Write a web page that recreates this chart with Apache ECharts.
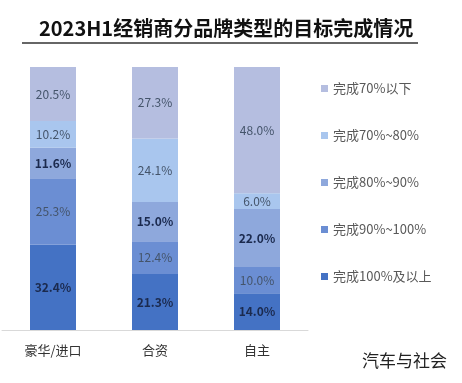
<!DOCTYPE html>
<html><head><meta charset="utf-8">
<script src="https://cdn.jsdelivr.net/npm/echarts@6/dist/echarts.min.js"></script>
<style>html,body{margin:0;padding:0;background:#fff}#c{width:462px;height:383px}</style>
</head><body><div id="c"></div>
<script>
const categories = ['豪华/进口', '合资', '自主'];
const seriesNames = ['完成100%及以上', '完成90%~100%', '完成80%~90%', '完成70%~80%', '完成70%以下'];
const s100 = [32.4, 21.3, 14.0];
const s90 = [25.3, 12.4, 10.0];
const s80 = [11.6, 15.0, 22.0];
const s70 = [10.2, 24.1, 6.0];
const sLow = [20.5, 27.3, 48.0];
const values = [s100, s90, s80, s70, sLow];
const colors = ['#4472C4', '#6B8ED3', '#8EA8DC', '#A9C6EE', '#B5BEE0'];
const bold = [true, false, true, false, false];
const F = '"Noto Sans CJK SC", "Noto Sans", sans-serif';
const chart = echarts.init(document.getElementById('c'));
chart.setOption({
  animation: false,
  textStyle: {fontFamily: F},
  title: {text: '2023H1经销商分品牌类型的目标完成情况', left: 34, top: 13,
    textStyle: {fontSize: 20, fontWeight: 'bold', color: '#111', fontFamily: F}},
  graphic: [
    {type: 'line', shape: {x1: 22, y1: 43, x2: 418, y2: 43}, style: {stroke: '#666', lineWidth: 2}},
    {type: 'text', left: 362, top: 352, style: {text: '汽车与社会', font: '17px ' + F, fill: '#222'}}
  ],
  legend: {orient: 'vertical', left: 316, top: 77, itemWidth: 7, itemHeight: 7, itemGap: 34,
    icon: 'rect', data: seriesNames.slice().reverse(),
    textStyle: {fontSize: 13, color: '#595959', fontFamily: F}},
  grid: {left: 2, right: 154, top: 67, bottom: 53},
  xAxis: {type: 'category', data: categories,
    axisLine: {lineStyle: {color: '#d9d9d9'}}, axisTick: {show: false},
    axisLabel: {fontSize: 13, color: '#333', margin: 14}},
  yAxis: {type: 'value', min: 0, max: 100, show: false},
  series: seriesNames.map((n, i) => ({
    name: n, type: 'bar', stack: 'a', barWidth: 46, data: values[i],
    itemStyle: {color: colors[i]},
    label: {show: true, position: 'inside', formatter: p => p.value.toFixed(1) + '%',
      fontSize: 12, fontWeight: bold[i] ? 'bold' : 'normal',
      color: bold[i] ? '#1b2a4e' : '#44546A', fontFamily: F}
  }))
});
</script></body></html>
